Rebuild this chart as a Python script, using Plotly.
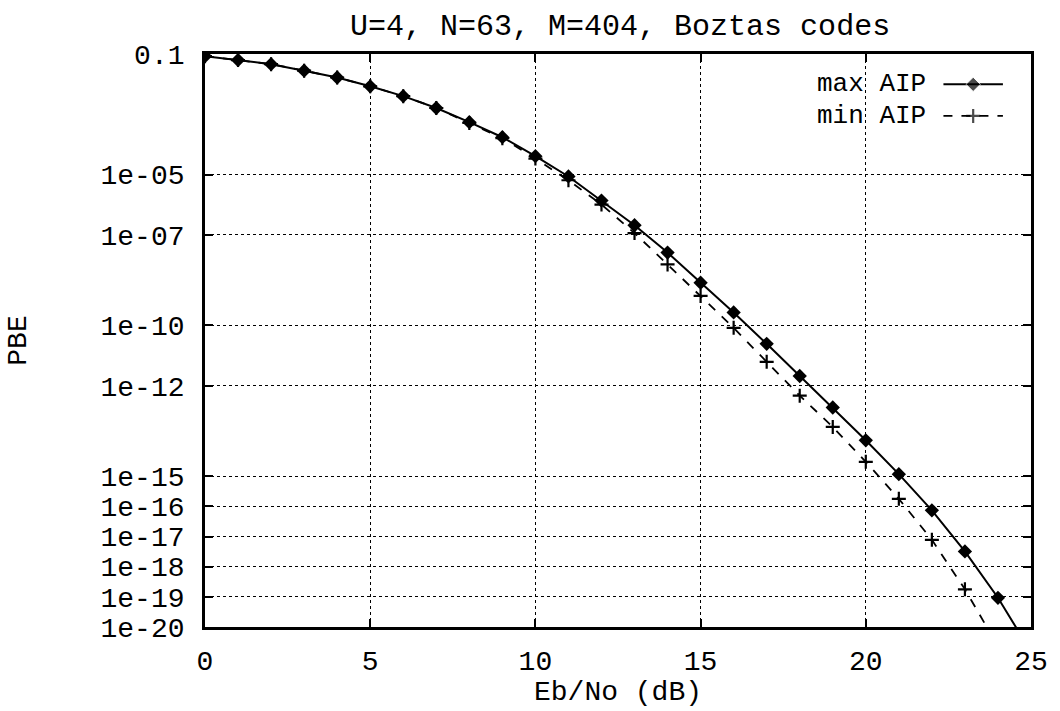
import plotly.graph_objects as go

# ---- data ----
eb_no = list(range(0, 26))  # dB
pbe_max_aip = [8.5e-2, 6.3e-2, 4.6e-2, 2.8e-2, 1.66e-2, 8.5e-3, 4.0e-3, 1.62e-3,
               5.5e-4, 1.74e-4, 4.1e-5, 8.7e-6, 1.38e-6, 2.1e-7, 2.6e-8, 2.6e-9,
               2.7e-10, 2.45e-11, 2.1e-12, 1.9e-13, 1.55e-14, 1.17e-15, 7.4e-17,
               3.2e-18, 9.3e-20, 1.5e-21]
eb_no_min = list(range(0, 25))
pbe_min_aip = [8.5e-2, 6.3e-2, 4.6e-2, 2.8e-2, 1.66e-2, 8.5e-3, 4.0e-3, 1.62e-3,
               5.2e-4, 1.62e-4, 3.4e-5, 6.5e-6, 1.02e-6, 1.15e-7, 1.05e-8, 9.5e-10,
               8.3e-11, 6.2e-12, 4.7e-13, 4.3e-14, 3.0e-15, 1.78e-16, 7.8e-18,
               1.78e-19, 2.3e-21]

x_tickvals = [0, 5, 10, 15, 20, 25]
y_tickvals = [1e-1, 1e-5, 1e-7, 1e-10, 1e-12, 1e-15, 1e-16, 1e-17, 1e-18, 1e-19, 1e-20]
y_ticktext = ["0.1", "1e-05", "1e-07", "1e-10", "1e-12", "1e-15", "1e-16",
              "1e-17", "1e-18", "1e-19", "1e-20"]

title_text = "U=4, N=63, M=404, Boztas codes"
x_title = "Eb/No (dB)"
y_title = "PBE"
series_names = ["max AIP", "min AIP"]

FONT = "Liberation Mono"
FS = 28

fig = go.Figure()

fig.add_trace(go.Scatter(
    x=eb_no, y=pbe_max_aip, mode="lines+markers", name=series_names[0],
    line=dict(color="black", width=2),
    marker=dict(symbol="diamond", size=11, color="black"),
    showlegend=False))
fig.add_trace(go.Scatter(
    x=eb_no_min, y=pbe_min_aip, mode="lines+markers", name=series_names[1],
    line=dict(color="black", width=1.8, dash="dash"),
    marker=dict(symbol="cross-thin", size=10, color="black",
                line=dict(color="black", width=2.2)),
    showlegend=False))

# ---- key drawn gnuplot-style (text then sample) on an overlay axis ----
key_x0, key_x1 = 0.894, 0.966
key_rows = [0.947, 0.892]
fig.add_trace(go.Scatter(
    x=[key_x0, (key_x0 + key_x1) / 2, key_x1], y=[key_rows[0]] * 3,
    xaxis="x2", yaxis="y2", mode="lines+markers",
    line=dict(color="black", width=2),
    marker=dict(symbol="diamond", size=[0, 11, 0], color="black"),
    showlegend=False, hoverinfo="skip"))
fig.add_trace(go.Scatter(
    x=[key_x0, (key_x0 + key_x1) / 2, key_x1], y=[key_rows[1]] * 3,
    xaxis="x2", yaxis="y2", mode="lines+markers",
    line=dict(color="black", width=1.8, dash="dash"),
    marker=dict(symbol="cross-thin", size=[0, 10, 0], color="black",
                line=dict(color="black", width=2.2)),
    showlegend=False, hoverinfo="skip"))

for name, yr in zip(series_names, key_rows):
    fig.add_annotation(x=0.874, y=yr, xref="paper", yref="paper", text=name,
                       showarrow=False, xanchor="right", yanchor="middle",
                       borderpad=0,
                       font=dict(family=FONT, size=26, color="black"))

axis_common = dict(
    showline=True, linecolor="black", linewidth=2.8, mirror="ticks",
    ticks="inside", ticklen=8, tickwidth=2, tickcolor="black",
    showgrid=True, gridcolor="black", gridwidth=1, griddash="dot",
    zeroline=False,
    tickfont=dict(family=FONT, size=FS, color="black"),
)

fig.update_layout(
    width=1060, height=711,
    margin=dict(l=205, r=20, t=54, b=78),
    paper_bgcolor="white", plot_bgcolor="white",
    title=dict(text=title_text, x=0.585, xanchor="center", y=0.966, yanchor="middle",
               font=dict(family=FONT, size=30, color="black")),
    xaxis=dict(range=[0, 25], tickvals=x_tickvals, ticklabelstandoff=6,
               title=dict(text=x_title, standoff=2,
                          font=dict(family=FONT, size=FS, color="black")),
               **axis_common),
    yaxis=dict(type="log", range=[-20, -1], tickvals=y_tickvals, ticktext=y_ticktext,
               ticklabelstandoff=12,
               title=dict(text=y_title, standoff=66,
                          font=dict(family=FONT, size=FS, color="black")),
               **axis_common),
    xaxis2=dict(overlaying="x", range=[0, 1], visible=False),
    yaxis2=dict(overlaying="y", range=[0, 1], visible=False),
)

fig.write_html("out.html")
